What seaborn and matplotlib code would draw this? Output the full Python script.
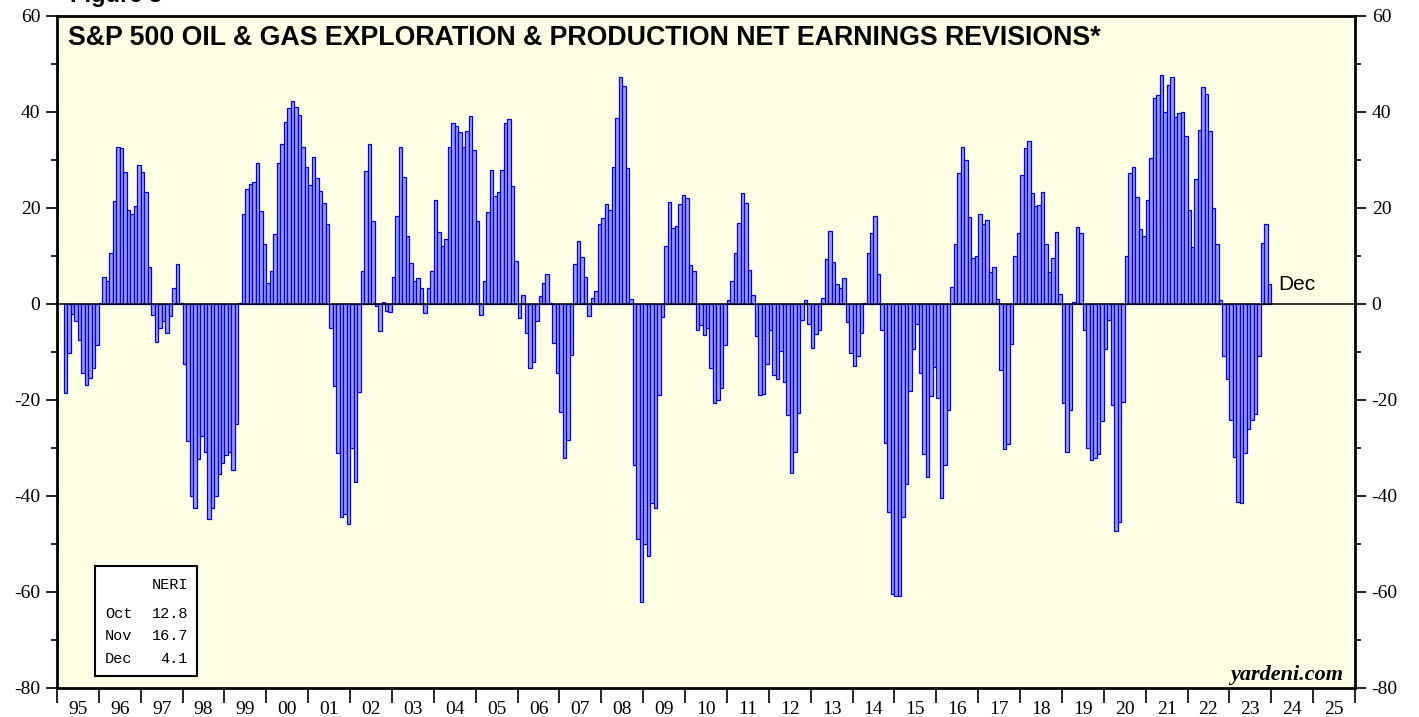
import matplotlib
matplotlib.use("Agg")
import matplotlib.pyplot as plt
import numpy as np
import pandas as pd
import seaborn as sns
from matplotlib.patches import Rectangle
from matplotlib.ticker import MultipleLocator

# Net earnings revisions index (NERI), monthly, first reading Mar 1995
start_month = "1995-03"
neri_1995 = [-18.6, -10.2, -2.0, -3.5, -7.6, -14.3, -16.9, -15.4, -13.3, -8.5]
neri_1996 = [0.3, 5.6, 4.7, 10.6, 21.4, 32.8, 32.4, 27.5, 19.6, 18.7, 20.5, 28.9]
neri_1997 = [27.5, 23.4, 7.7, -2.3, -8.0, -5.1, -3.5, -6.0, -2.5, 3.3, 8.3, 0.2]
neri_1998 = [-12.6, -28.6, -40.0, -42.6, -32.3, -27.5, -30.9, -44.8, -42.6, -40.0, -35.5, -33.1]
neri_1999 = [-31.4, -30.9, -34.6, -25.1, 0.2, 18.7, 23.9, 24.9, 25.4, 29.4, 19.3, 12.6]
neri_2000 = [4.3, 6.9, 14.5, 29.4, 33.4, 38.0, 40.9, 42.3, 41.0, 39.3, 32.8, 28.5]
neri_2001 = [24.8, 30.6, 26.3, 23.6, 21.1, 16.7, -5.1, -17.0, -31.0, -44.4, -43.7, -45.9]
neri_2002 = [-30.1, -37.0, -18.4, 6.8, 27.8, 33.3, 17.2, -0.4, -5.7, 0.4, -1.5, -1.6]
neri_2003 = [5.7, 18.4, 32.8, 26.4, 14.1, 8.6, 4.7, 5.4, 3.4, -1.9, 3.4, 6.9]
neri_2004 = [21.6, 14.9, 12.0, 13.5, 32.8, 37.7, 37.0, 35.9, 32.8, 36.1, 39.2, 32.1]
neri_2005 = [17.2, -2.2, 4.7, 19.1, 28.0, 22.5, 23.4, 27.9, 37.8, 38.5, 24.5, 9.0]
neri_2006 = [-2.9, 1.9, -6.0, -13.3, -12.1, -3.5, 1.7, 4.4, 6.2, 0.2, -8.2, -14.4]
neri_2007 = [-22.5, -32.1, -28.3, -10.7, 8.3, 13.1, 9.7, 5.6, -2.5, 1.3, 2.8, 16.6]
neri_2008 = [17.9, 20.9, 19.6, 28.6, 38.8, 47.2, 45.4, 28.3, 1.1, -33.5, -49.0, -62.1]
neri_2009 = [-50.1, -52.6, -41.4, -42.6, -19.0, -2.8, 12.0, 21.2, 15.8, 16.2, 20.8, 22.8]
neri_2010 = [22.1, 8.2, 6.8, -5.5, -4.3, -6.5, -5.0, -13.3, -20.6, -19.9, -17.6, -8.5]
neri_2011 = [0.8, 4.7, 10.6, 16.9, 23.1, 21.1, 7.1, 1.9, -6.7, -19.0, -18.8, -12.6]
neri_2012 = [-5.5, -14.7, -15.6, -9.8, -16.3, -23.1, -35.3, -30.8, -22.7, -3.3, 0.8, -4.2]
neri_2013 = [-9.2, -6.3, -5.4, 1.3, 9.4, 15.3, 8.8, 4.2, 3.4, 5.4, -3.7, -10.2]
neri_2014 = [-13.0, -10.9, -6.0, 0.2, 10.6, 14.8, 18.4, 6.3, -5.5, -29.0, -43.3, -60.5]
neri_2015 = [-60.9, -60.9, -44.3, -37.6, -18.2, -9.3, -4.1, -14.3, -31.2, -36.0, -19.1, -13.2]
neri_2016 = [-19.5, -40.5, -33.5, -22.1, 3.5, 12.6, 27.3, 32.7, 30.1, 18.2, 9.6, 10.0]
neri_2017 = [18.8, 16.6, 17.6, 6.6, 7.8, 1.1, -13.8, -30.3, -29.2, -8.3, 9.9, 14.8]
neri_2018 = [26.8, 32.5, 33.9, 23.1, 20.5, 20.7, 23.4, 12.4, 6.6, 9.5, 14.9, 2.0]
neri_2019 = [-20.6, -30.8, -22.1, 0.4, 16.1, 14.8, -5.5, -29.9, -32.4, -32.1, -31.3, -24.3]
neri_2020 = [-9.3, -3.3, -21.0, -47.2, -45.4, -20.4, 10.0, 27.2, 28.6, 22.3, 15.7, 14.1]
neri_2021 = [21.7, 30.4, 42.9, 43.6, 47.7, 40.0, 45.6, 47.2, 38.9, 39.7, 40.0, 35.0]
neri_2022 = [19.5, 11.8, 26.1, 36.3, 45.3, 43.7, 36.1, 20.1, 12.4, 0.9, -10.8, -15.6]
neri_2023 = [-24.2, -31.8, -41.3, -41.4, -31.0, -26.0, -24.2, -23.0, -10.9, 12.8, 16.7, 4.1]

axis_years = list(range(1995, 2026))
year_labels = [f"{y % 100:02d}" for y in axis_years]
title = "S&P 500 OIL & GAS EXPLORATION & PRODUCTION NET EARNINGS REVISIONS*"

values = (neri_1995 + neri_1996 + neri_1997 + neri_1998 + neri_1999 + neri_2000
          + neri_2001 + neri_2002 + neri_2003 + neri_2004 + neri_2005 + neri_2006
          + neri_2007 + neri_2008 + neri_2009 + neri_2010 + neri_2011 + neri_2012
          + neri_2013 + neri_2014 + neri_2015 + neri_2016 + neri_2017 + neri_2018
          + neri_2019 + neri_2020 + neri_2021 + neri_2022 + neri_2023)

months = pd.period_range(start_month, periods=len(values), freq="M")
df = pd.DataFrame({"month": months, "neri": values})
# month slot measured from Jan of the first axis year, bar centred in its slot
df["pos"] = (df["month"].dt.year - axis_years[0]) * 12 + df["month"].dt.month - 1 + 0.5

W, H = 1419, 717
sns.set_style("ticks")
plt.rcParams["font.family"] = ["Liberation Serif", "DejaVu Serif"]
plt.rcParams["axes.unicode_minus"] = False
plt.rcParams["text.color"] = "black"
plt.rcParams["xtick.color"] = "black"
plt.rcParams["ytick.color"] = "black"

fig = plt.figure(figsize=(W / 100, H / 100), dpi=100)
ax = fig.add_axes([57 / W, 29 / H, 1298 / W, 672 / H])

sns.barplot(
    data=df, x="pos", y="neri", native_scale=True, width=1.0,
    color="#9c9cff", saturation=1, edgecolor="#0000ee", linewidth=0.9,
    errorbar=None, ax=ax,
)
ax.axhline(0, color="black", linewidth=1.1, zorder=4)

n_months = len(axis_years) * 12
ax.set_xlim(0, n_months)
ax.set_ylim(-80, 60)
ax.set_facecolor("#ffffe6")
for sp in ax.spines.values():
    sp.set_visible(True)
    sp.set_linewidth(2)
    sp.set_color("black")

ax.yaxis.set_major_locator(MultipleLocator(20))
ax.yaxis.set_minor_locator(MultipleLocator(10))
ax.tick_params(axis="y", which="both", left=True, right=True, labelleft=True,
               labelright=True, direction="out", labelsize=14, width=1.2,
               colors="black")
ax.tick_params(axis="y", which="major", length=8, pad=4)
ax.tick_params(axis="y", which="minor", length=4)

ax.set_xticks(np.arange(0, n_months + 1, 12))
ax.set_xticklabels([])
ax.set_xticks(np.arange(6, n_months, 12), minor=True)
ax.set_xticklabels(year_labels, minor=True)
ax.tick_params(axis="x", which="major", length=11, width=1.2, direction="out",
               colors="black")
ax.tick_params(axis="x", which="minor", length=0, pad=9, labelsize=14,
               colors="black")
ax.set_xlabel("")
ax.set_ylabel("")

fig.text(68 / W, 1 - 45 / H, title, family="Liberation Sans", fontweight="bold",
         fontsize=19.3, va="baseline", ha="left", color="black")
fig.text(70 / W, 1 - 2 / H, "Figure 3", family="Liberation Sans", fontweight="bold",
         fontsize=17, va="baseline", ha="left", color="black")

# label of the latest month next to the last bar
last = df.iloc[-1]
ax.annotate(last["month"].strftime("%b"), xy=(last["pos"] + 0.5, last["neri"]),
            xytext=(5, 0), textcoords="offset points", va="center", ha="left",
            family="Liberation Sans", fontsize=15, color="black")

# small table with the last three readings
box = Rectangle((95 / W, 1 - 676 / H), 102 / W, 110 / H, transform=fig.transFigure,
                facecolor="white", edgecolor="black", linewidth=1.5, zorder=5)
fig.add_artist(box)
mono = dict(family="Liberation Mono", fontsize=11, zorder=6, va="center", color="black")
fig.text(188 / W, 1 - 585 / H, "NERI", ha="right", **mono)
for k, (_, row) in enumerate(df.tail(3).iterrows()):
    y = 1 - (614 + 22.5 * k) / H
    fig.text(105 / W, y, row["month"].strftime("%b"), ha="left", **mono)
    fig.text(188 / W, y, f"{row['neri']:.1f}", ha="right", **mono)

fig.text(1343 / W, 1 - 675 / H, "yardeni.com", ha="right", va="center",
         family="Liberation Serif", fontweight="bold", fontstyle="italic", fontsize=16,
         color="black")

fig.savefig("out.png", dpi=100)
plt.close(fig)
